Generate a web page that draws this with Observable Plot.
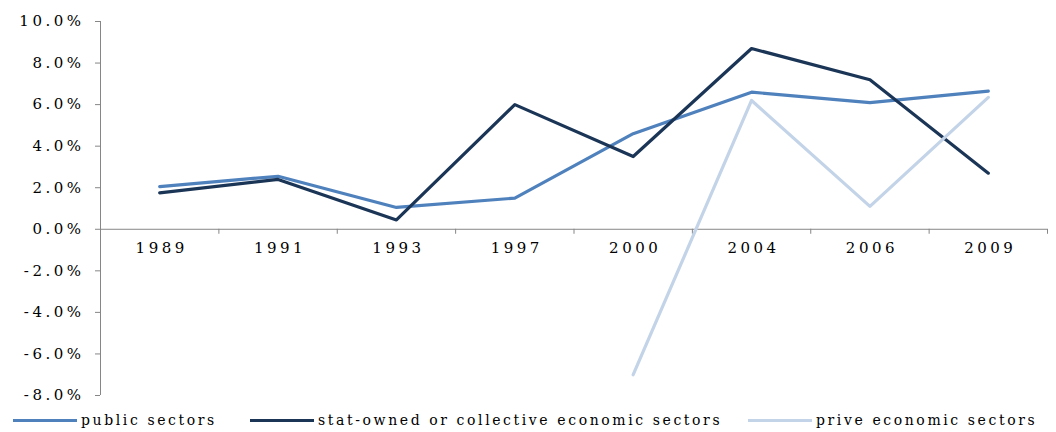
<!DOCTYPE html>
<html>
<head>
<meta charset="utf-8">
<script src="https://cdn.jsdelivr.net/npm/d3@7"></script>
<script src="https://cdn.jsdelivr.net/npm/@observablehq/plot@0.6"></script>
<style>
  body { margin: 0; background: #fff; }
  #wrap { position: relative; width: 1056px; height: 432px; }
  #legend { position: absolute; left: 0; top: 410px; width: 1056px; height: 22px;
            font-family: "DejaVu Serif", serif; font-size: 14px; letter-spacing: 2.6px; color: #000; }
  .item { position: absolute; top: 2px; display: flex; align-items: center; white-space: nowrap; }
  .sw { display: inline-block; width: 64px; height: 3px; margin-right: 4px; }
</style>
</head>
<body>
<div id="wrap"><div id="chart"></div><div id="legend"></div></div>
<script>
// Growth rates by sector, in percent
const years = ["1989", "1991", "1993", "1997", "2000", "2004", "2006", "2009"];
const publicSectors = [2.05, 2.55, 1.05, 1.5, 4.6, 6.6, 6.1, 6.65];
const stateSectors = [1.75, 2.4, 0.45, 6.0, 3.5, 8.7, 7.2, 2.7];
const privateSectors = [null, null, null, null, -7.0, 6.2, 1.1, 6.35];
const yTicks = [-8, -6, -4, -2, 0, 2, 4, 6, 8, 10];

const seriesNames = ["public sectors", "stat-owned or collective economic sectors", "prive economic sectors"];
const seriesColors = ["#4f81bd", "#1b3557", "#c3d3e8"];
const seriesValues = [publicSectors, stateSectors, privateSectors];

const rows = seriesValues.flatMap((vals, s) =>
  vals.map((v, i) => ({ series: seriesNames[s], i, value: v })).filter(d => d.value != null)
);
// category band edges, each year sits in the middle of its band
const boundaries = years.map((_, i) => i + 0.5);
const yearPos = years.map((y, i) => ({ year: y, i }));
const font = "DejaVu Serif, serif";

const chart = Plot.plot({
  width: 1056,
  height: 410,
  marginLeft: 100,
  marginRight: 9,
  marginTop: 21,
  marginBottom: 15,
  style: { fontFamily: font, fontSize: "15px", letterSpacing: "3.5px", color: "#000" },
  x: { type: "linear", domain: [-0.5, years.length - 0.5], axis: null },
  y: { type: "linear", domain: [-8, 10] },
  color: { domain: seriesNames, range: seriesColors },
  marks: [
    // value axis
    Plot.axisY(yTicks, { tickSize: 5, tickPadding: 11, stroke: "#868686", fill: "#000",
      tickFormat: d => d.toFixed(1) + "%", label: null }),
    Plot.ruleX([-0.5], { y1: -8, y2: 10, stroke: "#868686" }),
    // category axis at zero
    Plot.ruleY([0], { stroke: "#868686" }),
    Plot.ruleX(boundaries, { y1: 0, y2: 0, insetBottom: -5, stroke: "#868686" }),
    Plot.text(yearPos, { x: "i", y: 0, text: "year", dy: 19, dx: 2, fill: "#000" }),
    // series
    Plot.line(rows, { x: "i", y: "value", z: "series", stroke: "series", strokeWidth: 3.2 })
  ]
});
document.getElementById("chart").appendChild(chart);

// legend below the chart
const legendX = [13, 250, 748];
const legend = document.getElementById("legend");
seriesNames.forEach((name, s) => {
  const item = document.createElement("div");
  item.className = "item";
  item.style.left = legendX[s] + "px";
  const sw = document.createElement("span");
  sw.className = "sw";
  sw.style.background = seriesColors[s];
  item.appendChild(sw);
  item.appendChild(document.createTextNode(name));
  legend.appendChild(item);
});
</script>
</body>
</html>
